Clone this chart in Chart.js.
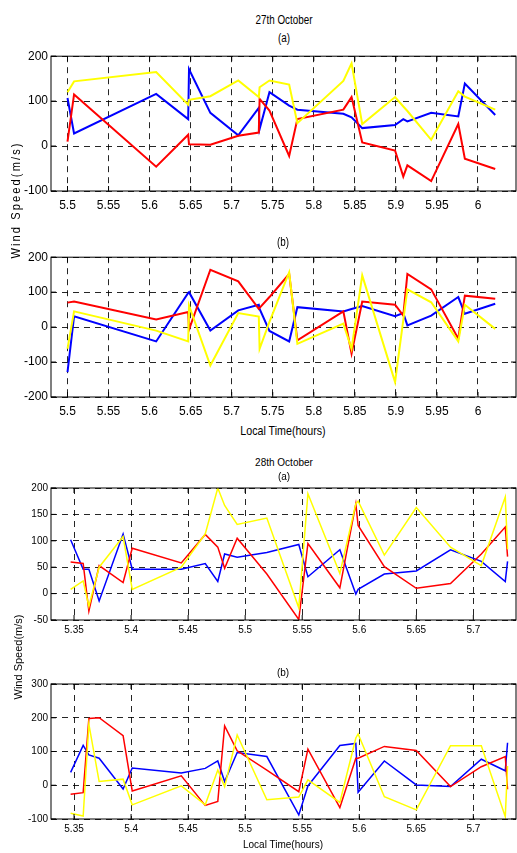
<!DOCTYPE html>
<html>
<head>
<meta charset="utf-8">
<script src="https://cdn.jsdelivr.net/npm/chart.js@4"></script>
<style>
  body { margin: 0; background: #fff; }
  #wrap { position: relative; width: 517px; height: 853px; overflow: hidden; background: #fff; }
  canvas { position: absolute; left: 0; }
  .txt { position: absolute; transform: translate(-50%, -50%); white-space: nowrap; color: #000;
         font-family: "Liberation Sans", Arial, sans-serif; }
  .narrow { transform: translate(-50%, -50%) scaleX(0.82); }
  .rot { transform: translate(-50%, -50%) rotate(-90deg); }
  .rotn { transform: translate(-50%, -50%) rotate(-90deg) scaleX(0.85); }
</style>
</head>
<body>
<div id="wrap">
  <canvas id="c1"></canvas>
  <canvas id="c2"></canvas>
  <canvas id="c3"></canvas>
  <canvas id="c4"></canvas>

  <div class="txt narrow" style="left:284px;top:20px;font-size:12px">27th October</div>
  <div class="txt narrow" style="left:284px;top:38px;font-size:12px">(a)</div>
  <div class="txt narrow" style="left:283px;top:242px;font-size:12px">(b)</div>
  <div class="txt narrow" style="left:283px;top:430px;font-size:13px">Local Time(hours)</div>
  <div class="txt rotn" style="left:15px;top:200px;font-size:13px;letter-spacing:2.5px">Wind Speed(m/s)</div>

  <div class="txt" style="left:284px;top:462px;font-size:10px">28th October</div>
  <div class="txt" style="left:284px;top:476px;font-size:10px">(a)</div>
  <div class="txt" style="left:283px;top:672px;font-size:10px">(b)</div>
  <div class="txt" style="left:283px;top:844px;font-size:10px">Local Time(hours)</div>
  <div class="txt rot" style="left:18px;top:657px;font-size:11px">Wind Speed(m/s)</div>
</div>
<script>
// 27th October - sample times (hours)
const time27 = [5.500, 5.508, 5.608, 5.647, 5.648, 5.674, 5.708, 5.733, 5.734, 5.746, 5.770,
                5.780, 5.836, 5.846, 5.859, 5.899, 5.909, 5.914, 5.943, 5.976, 5.984, 6.021];

// (a)
const blue27a   = [107, 28, 116, 60, 171, 74, 24, 85, 38, 120, 90, 81, 72, 64, 40, 47, 60, 55, 74, 66, 139, 69];
const red27a    = [10, 115, -46, 25, 4, 3, 23, 30, 105, 79, -22, 60, 81, 109, 8, -10, -68, -43, -78, 49, -28, -51];
const yellow27a = [120, 144, 165, 92, 103, 111, 146, 109, 131, 146, 137, 51, 145, 184, 49, 109, 88, 78, 14, 122, 110, 81];

// (b)
const blue27b   = [-129, 31, -41, 98, 100, -10, 48, 64, 52, -11, -41, 57, 45, 52, 60, 31, 40, 5, 33, 86, 38, 67];
const red27b    = [70, 73, 22, 43, -7, 164, 131, 52, 55, 86, 152, -38, 45, -76, 73, 64, 33, 152, 108, -33, 90, 81];
const yellow27b = [-62, 45, -10, -41, 62, -110, 40, 30, -62, 15, 157, -48, 10, -62, 148, -157, 20, 108, 71, -41, 64, -5];

// 28th October - sample times (hours)
const time28 = [5.347, 5.358, 5.363, 5.372, 5.393, 5.401, 5.444, 5.465, 5.476, 5.482, 5.493, 5.519,
                5.547, 5.555, 5.583, 5.597, 5.599, 5.622, 5.650, 5.680, 5.707, 5.728, 5.730];

// (a)
const blue28a   = [102, 46, 46, -14, 113, 46, 46, 57, 23, 75, 69, 78, 93, 32, 83, -1, 8, 37, 43, 83, 61, 23, 61];
const red28a    = [60, 57, -33, 53, 21, 86, 58, 112, 88, 48, 105, 37, -49, 95, 11, 170, 129, 51, 10, 19, 75, 126, 70];
const yellow28a = [8, 24, -24, 50, 108, 8, 50, 113, 200, 167, 131, 143, -27, 189, 38, 170, 175, 73, 163, 88, 53, 183, 84];

// (b)
const blue28b   = [38, 118, 90, 80, -11, 51, 36, 50, 72, 11, 97, 85, -88, -2, 118, 124, -21, 72, 1, -4, 77, 43, 126];
const red28b    = [-27, -22, 198, 200, 147, -17, 28, -60, -48, 176, 102, 45, -19, 107, -66, 80, 80, 115, 103, -4, 55, 85, -12];
const yellow28b = [-83, -91, 181, 11, 18, -58, -2, -58, 45, -4, 149, -43, -35, 16, -51, 140, 152, -34, -73, 117, 117, -93, 57];

// tick values
const xTicks27 = [5.5, 5.55, 5.6, 5.65, 5.7, 5.75, 5.8, 5.85, 5.9, 5.95, 6];
const xTicks28 = [5.35, 5.4, 5.45, 5.5, 5.55, 5.6, 5.65, 5.7];
const yTicks27a = [-100, 0, 100, 200];
const yTicks27b = [-200, -100, 0, 100, 200];
const yTicks28a = [-50, 0, 50, 100, 150, 200];
const yTicks28b = [-100, 0, 100, 200, 300];

const PAD_TOP = 10;

// solid frame + small inward tick marks, matlab style
const framePlugin = {
  id: 'frame',
  afterDatasetsDraw(chart) {
    const { ctx, chartArea: a, scales } = chart;
    ctx.save();
    ctx.strokeStyle = '#000';
    ctx.lineWidth = 1;
    ctx.setLineDash([]);
    ctx.strokeRect(a.left, a.top, a.right - a.left, a.bottom - a.top);
    ctx.beginPath();
    scales.x.ticks.forEach(t => {
      const px = scales.x.getPixelForValue(t.value);
      ctx.moveTo(px, a.bottom); ctx.lineTo(px, a.bottom - 5);
      ctx.moveTo(px, a.top); ctx.lineTo(px, a.top + 5);
    });
    scales.y.ticks.forEach(t => {
      const py = scales.y.getPixelForValue(t.value);
      ctx.moveTo(a.left, py); ctx.lineTo(a.left + 5, py);
      ctx.moveTo(a.right, py); ctx.lineTo(a.right - 5, py);
    });
    ctx.stroke();
    ctx.restore();
  }
};

function pts(times, vals) {
  return times.map((t, i) => ({ x: t, y: vals[i] }));
}

function panel(id, p) {
  const cv = document.getElementById(id);
  const h = PAD_TOP + p.areaH + p.xh;
  cv.width = 517; cv.height = h;
  cv.style.width = '517px'; cv.style.height = h + 'px';
  cv.style.top = (p.areaTop - PAD_TOP) + 'px';

  const font = { family: '"Liberation Sans", Arial, sans-serif', size: p.size };
  const grid = { color: 'rgba(0,0,0,0.85)', lineWidth: 1, drawTicks: false };
  const border = { display: false, dash: [6, 5] };
  const fmt = v => String(+Number(v).toFixed(2));

  new Chart(cv, {
    type: 'line',
    data: {
      datasets: [
        { data: pts(p.times, p.yellow), borderColor: '#ffff00' },
        { data: pts(p.times, p.red), borderColor: '#ff0000' },
        { data: pts(p.times, p.blue), borderColor: '#0000ff' }
      ]
    },
    options: {
      responsive: false,
      animation: false,
      layout: { padding: { top: PAD_TOP, left: 0, right: 1, bottom: 0 } },
      plugins: { legend: { display: false }, tooltip: { enabled: false } },
      elements: {
        point: { radius: 0 },
        line: { tension: 0, borderWidth: p.lw, fill: false }
      },
      scales: {
        x: {
          type: 'linear', min: p.xmin, max: p.xmax,
          afterBuildTicks: s => { s.ticks = p.xTicks.map(v => ({ value: v })); },
          afterFit: s => { s.height = p.xh; },
          grid, border,
          ticks: { color: '#000', font, padding: p.xpad, maxRotation: 0, autoSkip: false, callback: fmt }
        },
        y: {
          type: 'linear', min: p.yTicks[0], max: p.yTicks[p.yTicks.length - 1],
          afterBuildTicks: s => { s.ticks = p.yTicks.map(v => ({ value: v })); },
          afterFit: s => { s.width = 51; },
          grid, border,
          ticks: { color: '#000', font, padding: 3, autoSkip: false, callback: fmt }
        }
      }
    },
    plugins: [framePlugin]
  });
}

panel('c1', { times: time27, blue: blue27a, red: red27a, yellow: yellow27a,
  xTicks: xTicks27, yTicks: yTicks27a, xmin: 5.4799, xmax: 6.0463,
  areaTop: 56, areaH: 135, xh: 25, xpad: 7, size: 12, lw: 2 });
panel('c2', { times: time27, blue: blue27b, red: red27b, yellow: yellow27b,
  xTicks: xTicks27, yTicks: yTicks27b, xmin: 5.4799, xmax: 6.0463,
  areaTop: 257, areaH: 140, xh: 25, xpad: 7, size: 12, lw: 2 });
panel('c3', { times: time28, blue: blue28a, red: red28a, yellow: yellow28a,
  xTicks: xTicks28, yTicks: yTicks28a, xmin: 5.3298, xmax: 5.7374,
  areaTop: 488, areaH: 132, xh: 20, xpad: 4, size: 10, lw: 1.5 });
panel('c4', { times: time28, blue: blue28b, red: red28b, yellow: yellow28b,
  xTicks: xTicks28, yTicks: yTicks28b, xmin: 5.3298, xmax: 5.7374,
  areaTop: 684, areaH: 135, xh: 20, xpad: 4, size: 10, lw: 1.5 });
</script>
</body>
</html>
